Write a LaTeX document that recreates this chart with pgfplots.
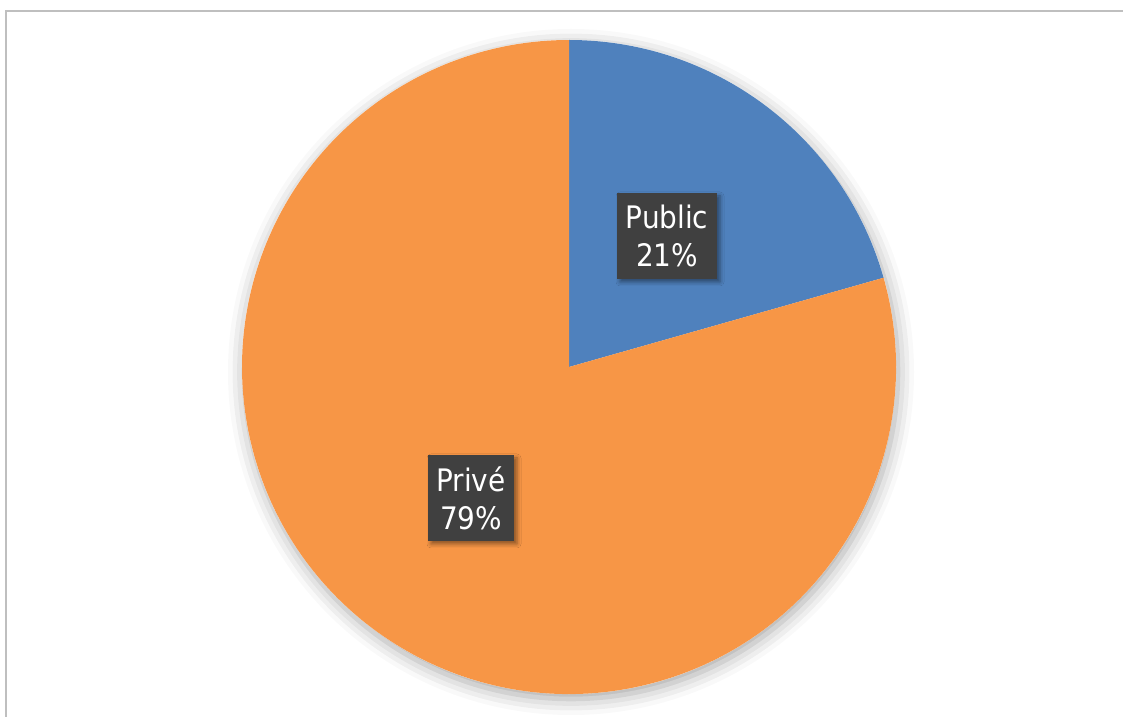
\documentclass[border=0pt]{standalone}
\usepackage{pgfplots}
\pgfplotsset{compat=1.18}
\usepackage{pgfplotstable}
\usepackage{fontspec}
\setmainfont{DejaVu Sans Condensed}
\usetikzlibrary{shadows.blur}
\definecolor{pubblue}{HTML}{4F81BD}
\definecolor{privorange}{HTML}{F79646}
\definecolor{boxgray}{HTML}{404040}
\definecolor{framegray}{HTML}{BFBFBF}
\pgfplotstableread{
value
20.6
79.4
}\piedata
\pgfplotstablegetelem{0}{value}\of\piedata \let\vA\pgfplotsretval
\pgfplotstablegetelem{1}{value}\of\piedata \let\vB\pgfplotsretval
\pgfmathsetmacro{\angA}{90-3.6*\vA}
\pgfmathsetmacro{\angB}{\angA-3.6*\vB}
\begin{document}
\begin{tikzpicture}
\begin{axis}[x=1bp,y=1bp,xmin=0,xmax=1123,ymin=0,ymax=717,hide axis,clip=false,
  at={(0,0)},anchor=south west,scale only axis]
\draw[framegray,line width=1.5bp] (axis cs:6,0) -- (axis cs:6,706) -- (axis cs:1123,706);
\fill[white,blur shadow={shadow xshift=2bp,shadow yshift=-5bp,shadow blur radius=16bp,shadow opacity=35}] (axis cs:569,350) circle[radius=327bp];
\fill[pubblue] (axis cs:569,350) -- ++(90:327bp) arc[start angle=90,end angle=\angA,radius=327bp] -- cycle;
\fill[privorange] (axis cs:569,350) -- ++(\angA:327bp) arc[start angle=\angA,end angle=\angB,radius=327bp] -- cycle;
\node[fill=boxgray,text=white,minimum width=100bp,minimum height=86bp,align=center,inner sep=0pt,
  font=\fontsize{31bp}{38bp}\selectfont,
  blur shadow={shadow xshift=3bp,shadow yshift=-3bp,shadow blur radius=4bp,shadow opacity=45}]
  at (axis cs:667,481) {Public\\21\%};
\node[fill=boxgray,text=white,minimum width=86bp,minimum height=86bp,align=center,inner sep=0pt,
  font=\fontsize{31bp}{38bp}\selectfont,
  blur shadow={shadow xshift=3bp,shadow yshift=-3bp,shadow blur radius=4bp,shadow opacity=45}]
  at (axis cs:471,219) {Privé\\79\%};
\end{axis}
\pgfresetboundingbox
\useasboundingbox (0,0) rectangle (1123bp,717bp);
\end{tikzpicture}
\end{document}
